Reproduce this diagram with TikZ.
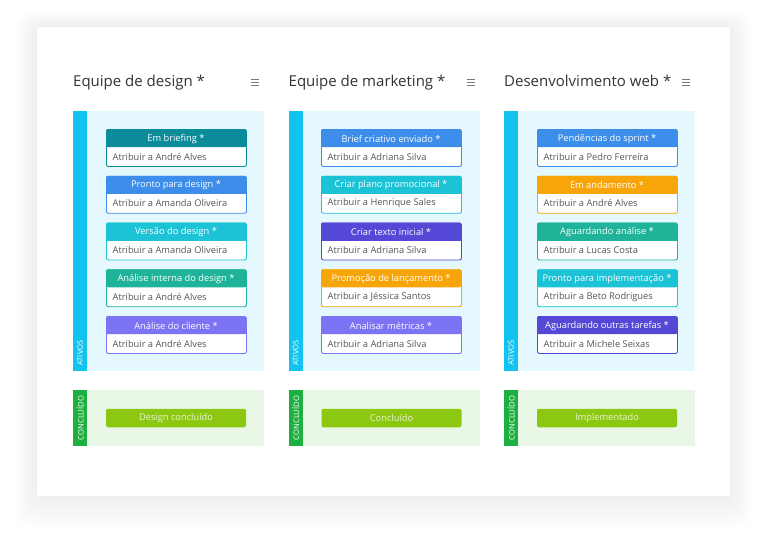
\documentclass[tikz,border=0pt]{standalone}
\usepackage{fontspec}
\setmainfont{Open Sans}
\usetikzlibrary{calc}
\definecolor{cTeal}{HTML}{0A8C9A}
\definecolor{cBlue}{HTML}{3D8DEB}
\definecolor{cCyan}{HTML}{1CC2D6}
\definecolor{cGreen}{HTML}{1FB39A}
\definecolor{cLav}{HTML}{7D73F5}
\definecolor{cIndigo}{HTML}{5548D6}
\definecolor{cOrange}{HTML}{F8A50A}
\definecolor{panelA}{HTML}{E5F8FD}
\definecolor{barA}{HTML}{13C3EF}
\definecolor{panelC}{HTML}{E9F7E6}
\definecolor{barC}{HTML}{1DAF3F}
\definecolor{btnC}{HTML}{8CC811}
\definecolor{btnText}{HTML}{E8F6CC}
\definecolor{titleC}{HTML}{333333}
\definecolor{bodyText}{HTML}{555555}
\definecolor{iconC}{HTML}{777777}
\definecolor{shadowC}{HTML}{C8CEDD}
\tikzset{
  cardbody/.style={rectangle, minimum width=140pt, minimum height=37pt, inner sep=0pt, line width=0.9pt, fill=white, rounded corners=2pt},
  cardhead/.style={text=white, inner sep=0pt, font=\fontsize{9.3}{11}\selectfont},
  cardtext/.style={text=bodyText, inner sep=0pt, font=\fontsize{9.3}{11}\selectfont},
  coltitle/.style={text=titleC, inner sep=0pt, font=\fontsize{15}{18}\selectfont},
  vlabel/.style={text=white, inner sep=0pt, rotate=90, font=\fontsize{7.6}{8}\selectfont},
  btn/.style={rectangle, fill=btnC, minimum width=140pt, minimum height=18.5pt, inner sep=0pt, rounded corners=2pt, text=btnText, font=\fontsize{9.3}{11}\selectfont},
  menuline/.style={iconC, line width=0.8pt}
}
\newcommand\kcard[6]{%
  \node[cardbody, draw=#4, anchor=north west] (#1) at (#2,#3) {};
  \fill[#4, rounded corners=2pt] (#2,#3) rectangle (#2+140,#3+18);
  \fill[#4] (#2,#3+10) rectangle (#2+140,#3+18);
  \node[cardhead] (#1h) at (#2+70,#3+9.6) {#5};
  \node[cardtext, anchor=west] (#1t) at (#2+6.5,#3+27.6) {#6};
}
\newcommand\kcolumn[4]{% #1 prefix, #2 x offset, #3 title, #4 button text
  \node[coltitle, anchor=base west] (#1title) at (73+#2,86.5) {#3};
  \coordinate (#1m) at (251+#2,82.5);
  \draw[menuline] ($(#1m)+(0,-3)$) -- ++(8,0);
  \draw[menuline] (#1m) -- ++(8,0);
  \draw[menuline] ($(#1m)+(0,3)$) -- ++(8,0);
  \fill[panelA] (73+#2,111) rectangle (264+#2,371);
  \fill[barA] (73+#2,111) rectangle (87+#2,371);
  \node[vlabel] (#1ativos) at (80.2+#2,353) {ATIVOS};
  \fill[panelC] (73+#2,390) rectangle (264+#2,446);
  \fill[barC] (73+#2,390) rectangle (87+#2,446);
  \node[vlabel] (#1concl) at (80.2+#2,418) {CONCLUÍDO};
  \node[btn] (#1btn) at (176+#2,418) {#4};
}
\begin{document}
\begin{tikzpicture}[x=1pt,y=-1pt]
\useasboundingbox[fill=white] (0,0) rectangle (768,543);
% shadow
\foreach \i in {1,...,16}{
  \fill[shadowC, opacity=0.016, rounded corners=14pt] (37-\i*1.4,27-\i*0.9) rectangle (730+\i*1.4,496+\i*2);
}
\fill[white] (37,27) rectangle (730,496);
% columns
\kcolumn{a}{0}{Equipe de design *}{Design concluído}
\kcolumn{b}{215.5}{Equipe de marketing *}{Concluído}
\kcolumn{c}{431}{Desenvolvimento web *}{Implementado}
% column 1 cards
\kcard{a1}{106}{129}{cTeal}{Em briefing *}{Atribuir a André Alves}
\kcard{a2}{106}{175.75}{cBlue}{Pronto para design *}{Atribuir a Amanda Oliveira}
\kcard{a3}{106}{222.5}{cCyan}{Versão do design *}{Atribuir a Amanda Oliveira}
\kcard{a4}{106}{269.25}{cGreen}{Análise interna do design *}{Atribuir a André Alves}
\kcard{a5}{106}{316}{cLav}{Análise do cliente *}{Atribuir a André Alves}
% column 2 cards
\kcard{b1}{321}{129}{cBlue}{Brief criativo enviado *}{Atribuir a Adriana Silva}
\kcard{b2}{321}{175.75}{cCyan}{Criar plano promocional *}{Atribuir a Henrique Sales}
\kcard{b3}{321}{222.5}{cIndigo}{Criar texto inicial *}{Atribuir a Adriana Silva}
\kcard{b4}{321}{269.25}{cOrange}{Promoção de lançamento *}{Atribuir a Jéssica Santos}
\kcard{b5}{321}{316}{cLav}{Analisar métricas *}{Atribuir a Adriana Silva}
% column 3 cards
\kcard{c1}{537}{129}{cBlue}{Pendências do sprint *}{Atribuir a Pedro Ferreira}
\kcard{c2}{537}{175.75}{cOrange}{Em andamento *}{Atribuir a André Alves}
\kcard{c3}{537}{222.5}{cGreen}{Aguardando análise *}{Atribuir a Lucas Costa}
\kcard{c4}{537}{269.25}{cCyan}{Pronto para implementação *}{Atribuir a Beto Rodrigues}
\kcard{c5}{537}{316}{cIndigo}{Aguardando outras tarefas *}{Atribuir a Michele Seixas}
\end{tikzpicture}
\end{document}
